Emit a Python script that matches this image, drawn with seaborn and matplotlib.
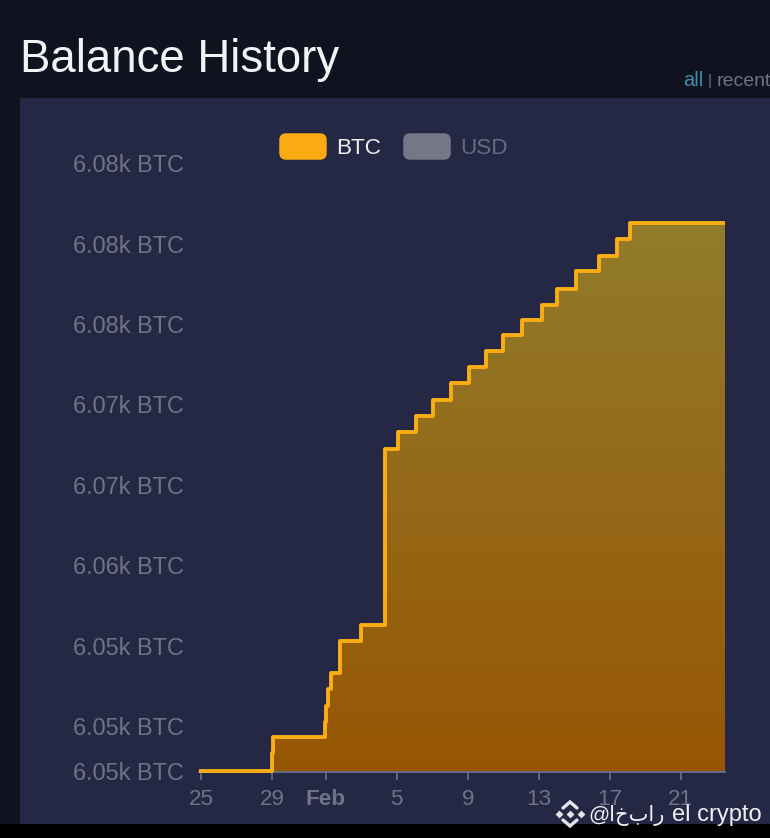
import numpy as np
import pandas as pd
import matplotlib
matplotlib.use("Agg")
import matplotlib.pyplot as plt
from matplotlib.patches import Rectangle, FancyBboxPatch
from matplotlib.colors import LinearSegmentedColormap
import seaborn as sns

# Days since 25 Jan at which the balance changes, and the balance from that day on
step_days = [-0.14, 3.97, 4.03, 6.93, 7.04, 7.15, 7.30, 7.80, 8.99, 10.34, 11.07, 12.08,
             13.04, 14.06, 15.07, 16.03, 16.99, 18.06, 19.18, 20.03, 21.09, 22.39, 23.41,
             24.14, 29.49]
balance_btc = [6047.2, 6048.3, 6049.3, 6050.25, 6051.25, 6052.3, 6053.3, 6055.3, 6056.3,
               6067.2, 6068.3, 6069.3, 6070.3, 6071.3, 6072.3, 6073.3, 6074.3, 6075.25,
               6076.2, 6077.2, 6078.3, 6079.2, 6080.3, 6081.3, 6081.3]
x_tick_days = [0, 4, 7, 11, 15, 19, 23, 27]
x_tick_labels = ["25", "29", "Feb", "5", "9", "13", "17", "21"]
y_tick_values = [6047.2, 6050, 6055, 6060, 6065, 6070, 6075, 6080, 6085]
y_tick_labels = ["6.05k BTC", "6.05k BTC", "6.05k BTC", "6.06k BTC", "6.07k BTC",
                 "6.07k BTC", "6.08k BTC", "6.08k BTC", "6.08k BTC"]
legend_labels = ["BTC", "USD"]
title_text = "Balance History"

W, H = 770, 838
BG, PANEL, GREY, ORANGE = "#10121f", "#252844", "#6f7387", "#fbae14"
FONT = ["Liberation Sans", "DejaVu Sans"]

sns.set_theme(style="dark")
plt.rcParams["font.family"] = FONT

df = pd.DataFrame({"day": step_days, "btc": balance_btc})
fig = plt.figure(figsize=(W / 100, H / 100), dpi=100, facecolor=BG)

# Background layer in pixel coordinates
bg = fig.add_axes([0, 0, 1, 1], zorder=0)
bg.set_xlim(0, W); bg.set_ylim(H, 0); bg.axis("off")
bg.add_patch(Rectangle((19.5, 98), W - 19.5, 730, color=PANEL, lw=0))

# Chart
L, R, T, B = 199, 725, 100, 771.5
ax = fig.add_axes([L / W, 1 - B / H, (R - L) / W, (B - T) / H], zorder=1)
ax.patch.set_alpha(0)
ax.set_xlim(-0.14, 29.49)
ax.set_ylim(6047.17, 6088.93)

base = ax.get_ylim()[0]
poly = ax.fill_between(df["day"], df["btc"], base, step="post", color="none", lw=0)
cmap = LinearSegmentedColormap.from_list("fill", ["#917c2c", "#985604"])
grad = ax.imshow(np.linspace(0, 1, 256)[:, None], cmap=cmap, aspect="auto", zorder=1,
                 extent=(-0.14, 29.49, base, max(balance_btc)), origin="upper")
grad.set_clip_path(poly.get_paths()[0], transform=ax.transData)
ax.set_xlim(-0.14, 29.49)
ax.set_ylim(6047.17, 6088.93)

sns.lineplot(data=df, x="day", y="btc", drawstyle="steps-post", color=ORANGE, lw=2.8,
             ax=ax, zorder=3, clip_on=False, errorbar=None, estimator=None,
             solid_capstyle="butt", solid_joinstyle="round")

ax.set_xlabel(""); ax.set_ylabel("")
ax.grid(False)
for s in ("top", "right", "left"):
    ax.spines[s].set_visible(False)
ax.spines["bottom"].set_color("#6d7186")
ax.spines["bottom"].set_linewidth(1.3)
ax.set_xticks(x_tick_days, x_tick_labels)
ax.set_yticks(y_tick_values, y_tick_labels)
ax.tick_params(axis="x", bottom=True, length=6, width=1.2, color="#6d7186", labelcolor=GREY,
               labelsize=16.2, pad=6.5)
ax.tick_params(axis="y", left=False, length=0, labelcolor=GREY, labelsize=16.9, pad=11)
for lab in ax.get_yticklabels():
    lab.set_y(lab.get_position()[1])
ax.get_xticklabels()[2].set_fontweight("bold")

# Overlay in pixel coordinates
ov = fig.add_axes([0, 0, 1, 1], zorder=2)
ov.patch.set_alpha(0)
ov.set_xlim(0, W); ov.set_ylim(H, 0); ov.axis("off")
ov.text(20, 60, title_text, color="#f2f3f5", fontsize=32.9, va="center", ha="left")
ov.text(683, 81, "all", color="#3f8ea8", fontsize=14.5, va="center", ha="left")
ov.text(708, 81, "|", color=GREY, fontsize=11, va="center", ha="left")
ov.text(717, 81, "recent", color=GREY, fontsize=14, va="center", ha="left", clip_on=True)

for x0, fc, lab, tc in [(279, "#fbaa14", legend_labels[0], "#eeeeee"),
                        (403, "#747786", legend_labels[1], "#666a80")]:
    ov.add_patch(FancyBboxPatch((x0 + 2, 135), 44, 23, boxstyle="round,pad=0,rounding_size=5",
                                mutation_aspect=1, fc=fc, ec=fc, lw=2.5))
    ov.text(x0 + 57.5, 148, lab, color=tc, fontsize=16.2, va="center", ha="left")

ov.add_patch(Rectangle((0, 824), W, 14, color="black", lw=0))
ov.text(762, 815, "el crypto", color="#f0f0f2", fontsize=17, va="center", ha="right")
ov.text(665, 815, "@اخبار", color="#f0f0f2", fontsize=15, va="center", ha="right", family=FONT)

# Exchange logo
lc = "#e4e4e8"
ov.scatter([570, 559, 581], [814, 814, 814], marker="D", s=16, color=lc, lw=0)
ov.plot([563, 570, 577], [808, 802, 808], color=lc, lw=2.4, solid_joinstyle="miter")
ov.plot([563, 570, 577], [820, 826, 820], color=lc, lw=2.4, solid_joinstyle="miter")

fig.savefig("out.png", dpi=100, facecolor=BG)
